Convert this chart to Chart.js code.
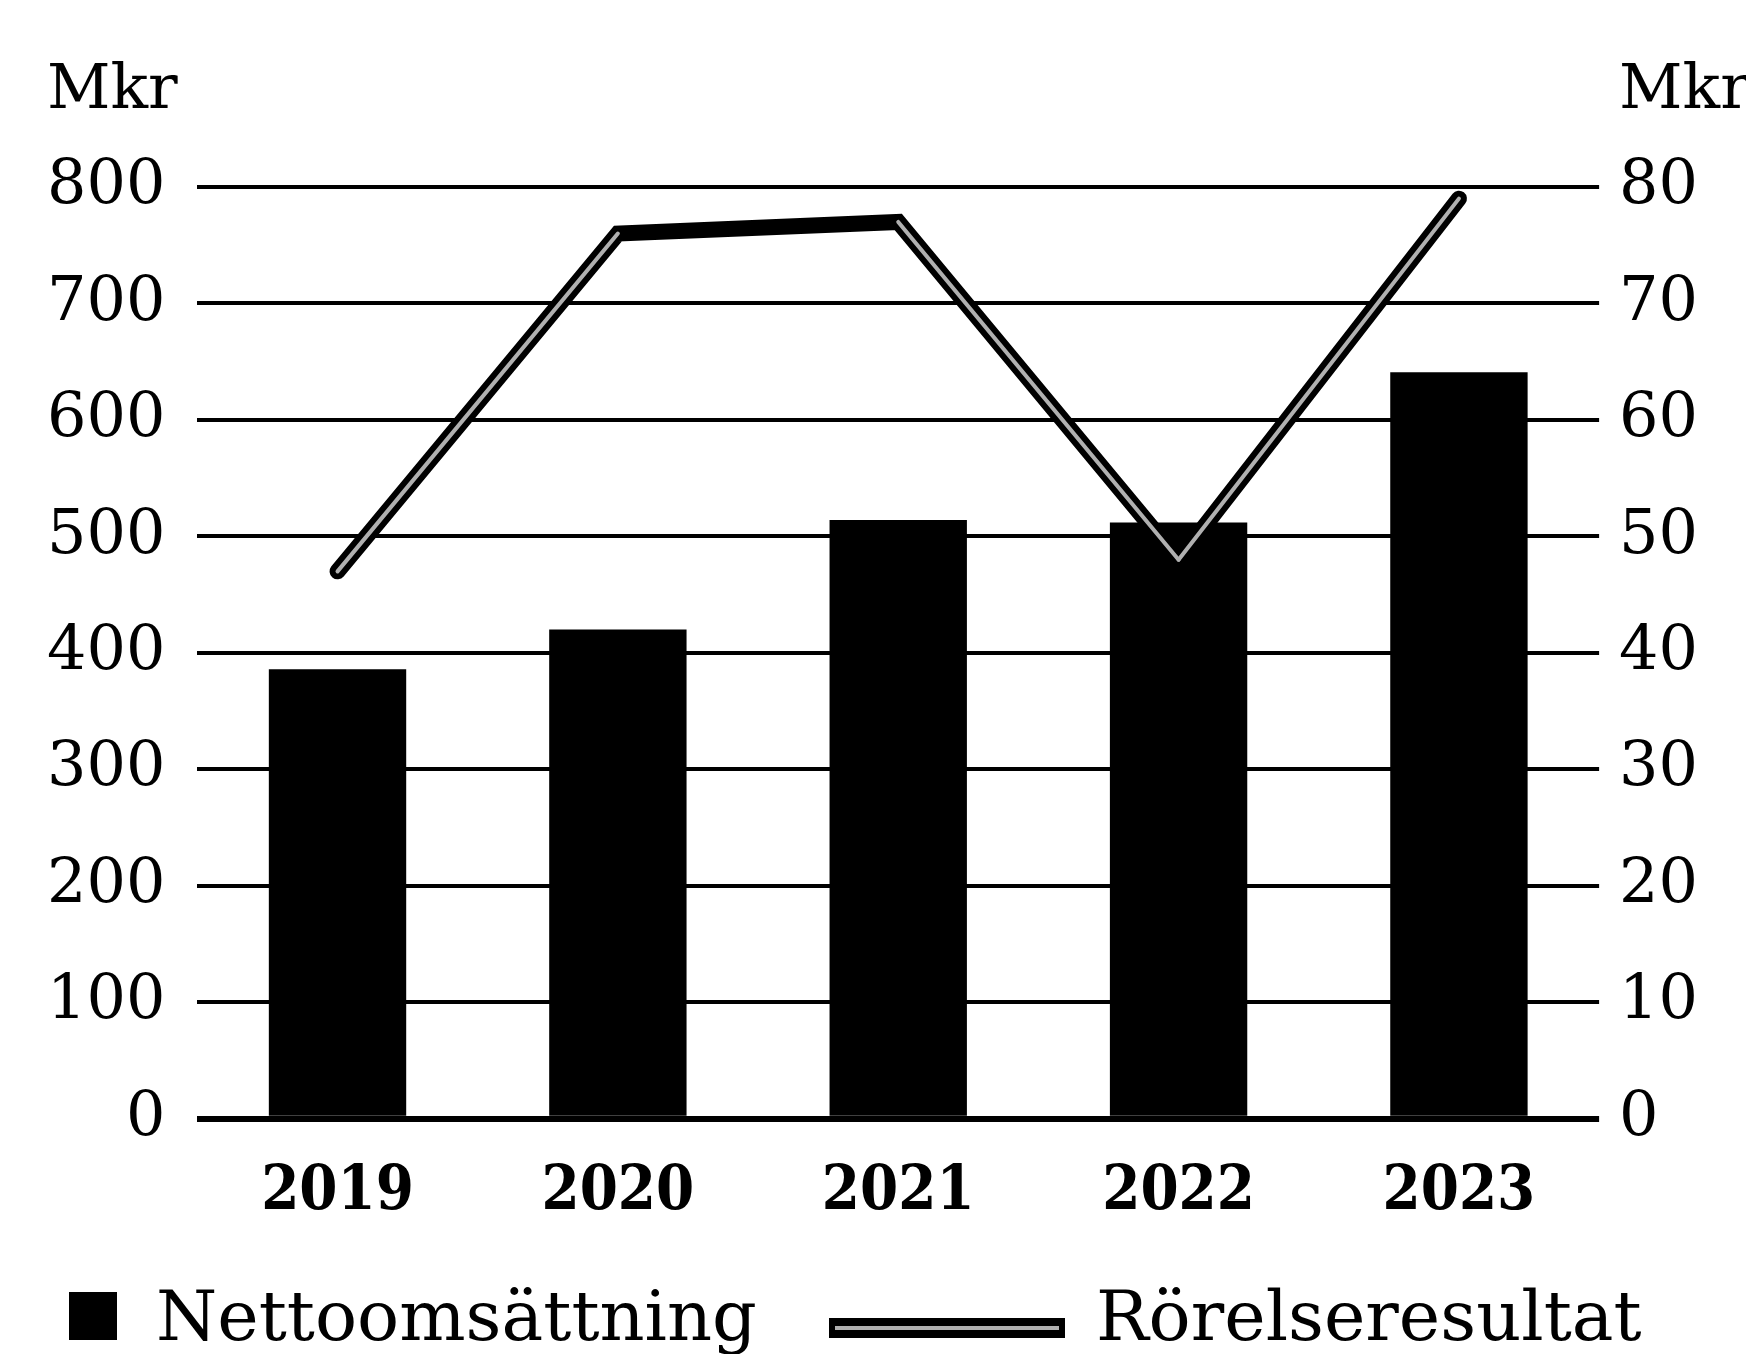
<!DOCTYPE html>
<html>
<head>
<meta charset="utf-8">
<script src="https://cdn.jsdelivr.net/npm/chart.js@4.4.1/dist/chart.umd.min.js"></script>
<style>
  html, body { margin: 0; padding: 0; background: #fff; }
  #page { position: relative; width: 1746px; height: 1354px; overflow: hidden; }
  #chartBox { position: absolute; left: 0; top: 0; width: 1746px; height: 1260px; }
  #legend { position: absolute; left: 69px; top: 1274px; display: flex; align-items: center;
    font-family: 'DejaVu Serif', serif; font-size: 70px; line-height: 84px; color: #000; white-space: nowrap; }
  .sq { width: 48px; height: 48px; background: #000; margin-right: 39px; }
  .ln { width: 236px; height: 20px; background: #000; margin: 24px 31px 0 72px; position: relative; }
  .ln span { position: absolute; left: 6px; right: 6px; top: 8px; height: 4px; background: #b0b0b0; }
</style>
</head>
<body>
<div id="page">
  <div id="chartBox"><canvas id="myChart"></canvas></div>
  <div id="legend"></div>
</div>
<script>
'use strict';

let years = ['2019', '2020', '2021', '2022', '2023'];
let nettoomsattning = [386, 420, 514, 512, 641];
let rorelseresultat = [47, 76, 77, 48, 79];
let leftTicks = [0, 100, 200, 300, 400, 500, 600, 700, 800];
let rightTicks = [0, 10, 20, 30, 40, 50, 60, 70, 80];
let unitLabel = 'Mkr';
let legendNames = ['Nettoomsättning', 'Rörelseresultat'];

let serif = "'DejaVu Serif', serif";

// legend below the canvas
let legend = document.getElementById('legend');
legend.innerHTML =
  '<div class="sq"></div><div>' + legendNames[0] + '</div>' +
  '<div class="ln"><span></span></div><div>' + legendNames[1] + '</div>';

// light stripe inside the result line, plus the Mkr unit labels
let decor = {
  id: 'decor',
  afterDatasetsDraw(chart) {
    let pts = chart.getDatasetMeta(0).data;
    let ctx = chart.ctx;
    ctx.save();
    ctx.strokeStyle = '#b0b0b0';
    ctx.lineWidth = 4;
    ctx.lineCap = 'round';
    for (let i = 0; i < pts.length - 1; i++) {
      if (i === 1) continue; // 2020-2021 is solid black
      ctx.beginPath();
      ctx.moveTo(pts[i].x, pts[i].y);
      ctx.lineTo(pts[i + 1].x, pts[i + 1].y);
      ctx.stroke();
    }
    ctx.restore();
  },
  afterDraw(chart) {
    let ctx = chart.ctx;
    ctx.save();
    ctx.fillStyle = '#000';
    ctx.font = '62px ' + serif;
    ctx.textBaseline = 'alphabetic';
    ctx.textAlign = 'left';
    ctx.fillText(unitLabel, 47, 108);
    ctx.fillText(unitLabel, chart.scales.y1.left + 20, 108);
    ctx.restore();
  }
};

let ctx = document.getElementById('myChart').getContext('2d');

let myChart = new Chart(ctx, {
  type: 'bar',
  data: {
    labels: years,
    datasets: [
      {
        type: 'line',
        label: legendNames[1],
        data: rorelseresultat,
        yAxisID: 'y1',
        order: 0,
        borderColor: '#000',
        borderWidth: 16,
        borderCapStyle: 'round',
        borderJoinStyle: 'miter',
        pointRadius: 0,
        tension: 0,
        fill: false
      },
      {
        type: 'bar',
        label: legendNames[0],
        data: nettoomsattning,
        yAxisID: 'y',
        order: 1,
        backgroundColor: '#000',
        categoryPercentage: 1,
        barPercentage: 0.49
      }
    ]
  },
  options: {
    responsive: true,
    maintainAspectRatio: false,
    animation: false,
    layout: { padding: { top: 187, left: 15, right: 28, bottom: 0 } },
    plugins: {
      legend: { display: false },
      tooltip: { enabled: false }
    },
    scales: {
      x: {
        grid: { display: false },
        border: { display: false },
        ticks: {
          color: '#000',
          padding: 30,
          font: { family: "'DejaVu Serif Condensed', 'DejaVu Serif', serif", size: 61, weight: 'bold' }
        }
      },
      y: {
        position: 'left',
        min: 0,
        max: 800,
        afterBuildTicks: axis => { axis.ticks = leftTicks.map(v => ({ value: v })); },
        grid: {
          color: '#000',
          lineWidth: c => (c.tick && c.tick.value === 0 ? 6 : 4),
          drawTicks: false
        },
        border: { display: false },
        ticks: { color: '#000', padding: 32, font: { family: serif, size: 62 } }
      },
      y1: {
        position: 'right',
        min: 0,
        max: 80,
        afterBuildTicks: axis => { axis.ticks = rightTicks.map(v => ({ value: v })); },
        grid: { display: false, drawTicks: false },
        border: { display: false },
        ticks: { color: '#000', padding: 20, font: { family: serif, size: 62 } }
      }
    }
  },
  plugins: [decor]
});
</script>
</body>
</html>
